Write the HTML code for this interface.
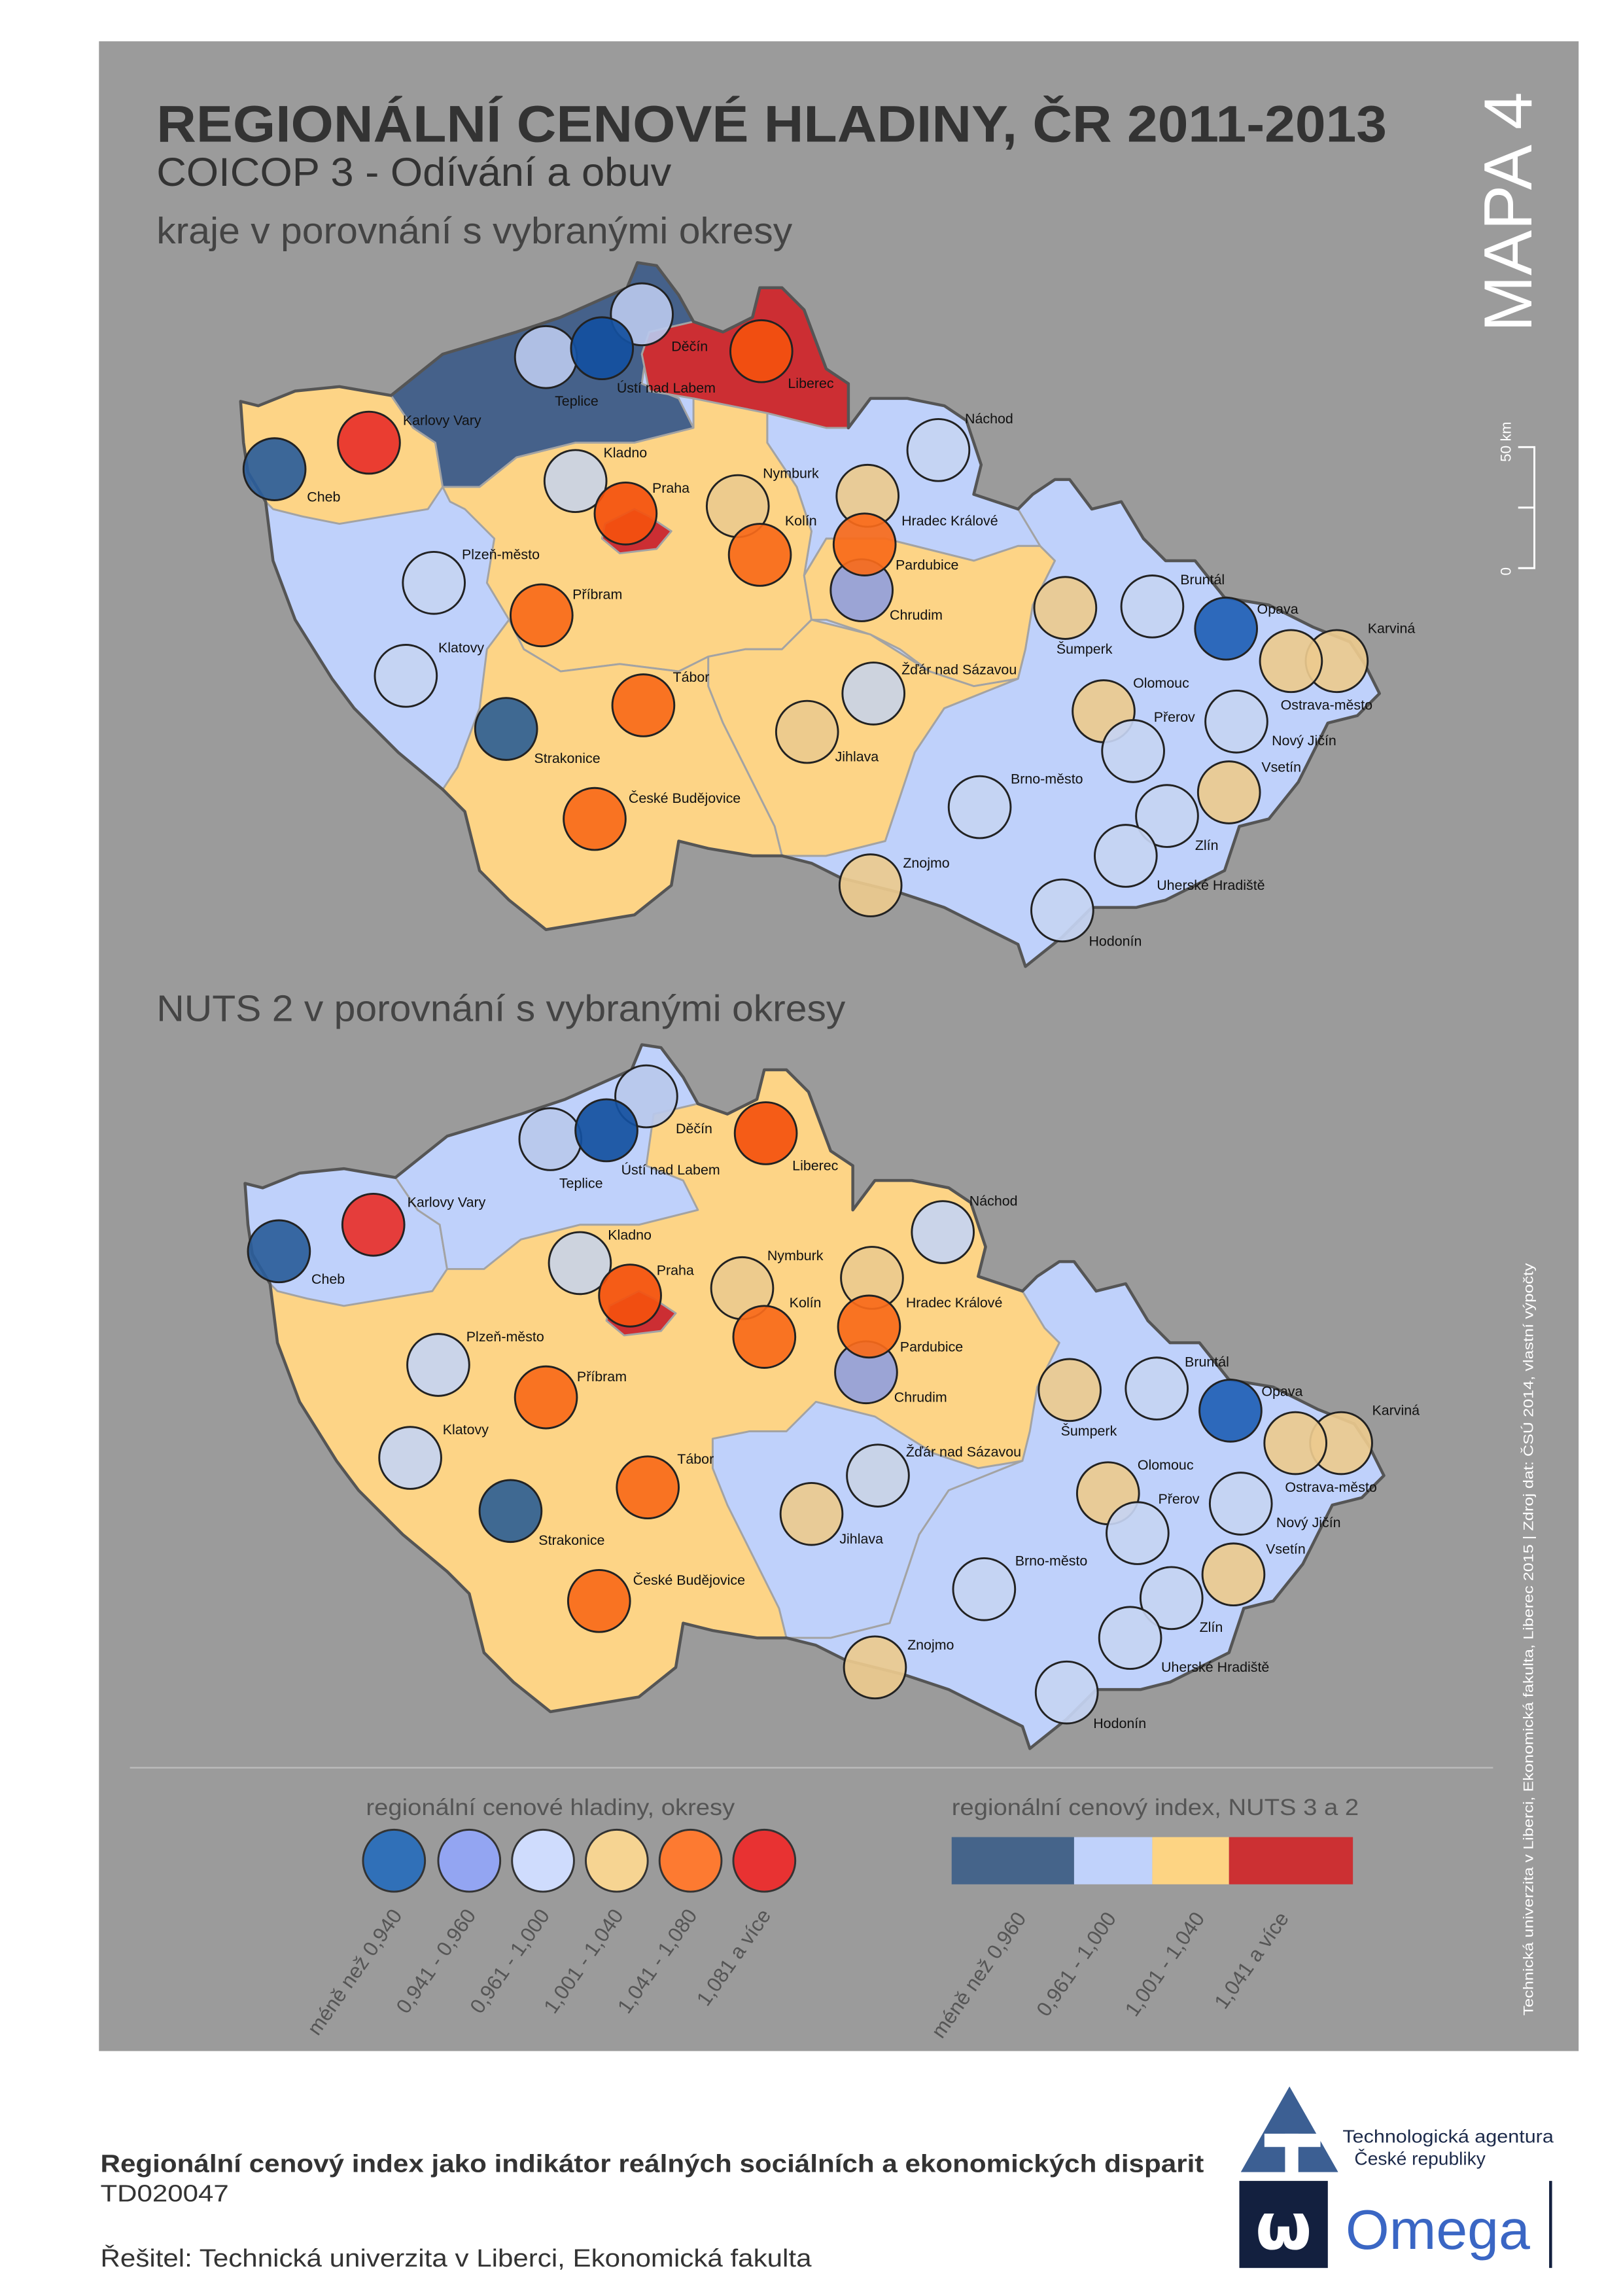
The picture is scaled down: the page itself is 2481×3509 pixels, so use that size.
<!DOCTYPE html>
<html><head><meta charset="utf-8"><style>
html,body{margin:0;padding:0;background:#fff;}
svg{display:block;font-family:"Liberation Sans",sans-serif;}
</style></head><body>
<svg width="2481" height="3509" viewBox="0 0 1100 1556" xmlns="http://www.w3.org/2000/svg">
<defs>
<path id="cz" d="M163,272 L175,275 L200,265 L230,262 L265,268 L300,240 L350,225 L380,215 L425,195 L432,178 L445,180 L460,200 L470,218 L490,225 L510,215 L515,195 L530,195 L545,210 L560,250 L575,260 L575,290 L590,270 L615,270 L640,275 L655,285 L665,315 L660,335 L690,345 L700,335 L715,325 L725,325 L740,345 L760,340 L775,365 L790,380 L810,380 L830,405 L860,410 L890,425 L915,435 L925,450 L935,470 L920,485 L900,490 L880,530 L860,555 L840,560 L830,590 L810,600 L790,610 L770,615 L740,615 L720,635 L695,655 L690,640 L640,615 L610,605 L590,600 L570,595 L550,585 L530,580 L510,580 L480,575 L460,570 L455,600 L430,620 L400,625 L370,630 L345,610 L325,590 L315,550 L300,535 L270,510 L240,480 L225,460 L200,420 L185,380 L180,340 L168,320 L165,300 Z"/>
<path id="kv" d="M163,272 L175,275 L200,265 L230,262 L265,268 L280,290 L295,300 L300,330 L290,345 L260,350 L230,355 L205,350 L185,345 L170,330 L165,300 Z"/>
<path id="us" d="M265,268 L300,240 L350,225 L380,215 L425,195 L432,178 L445,180 L460,200 L470,218 L440,225 L435,260 L460,270 L470,290 L430,300 L390,300 L350,310 L325,330 L300,330 L295,300 L280,290 Z"/>
<path id="lb" d="M470,218 L490,225 L510,215 L515,195 L530,195 L545,210 L560,250 L575,260 L575,290 L560,290 L540,285 L520,280 L495,275 L470,270 L440,265 L435,240 L440,225 Z"/>
<path id="hk" d="M520,280 L540,285 L560,290 L575,290 L590,270 L615,270 L640,275 L655,285 L665,315 L660,335 L690,345 L705,370 L690,370 L660,380 L640,375 L600,365 L560,365 L545,390 L550,360 L540,330 L520,300 Z"/>
<path id="st" d="M300,330 L325,330 L350,310 L390,300 L430,300 L470,290 L470,270 L495,275 L520,280 L520,300 L540,330 L550,360 L545,390 L550,420 L530,440 L505,440 L480,445 L460,455 L420,450 L380,455 L355,440 L345,420 L330,395 L335,365 L315,345 L305,340 Z"/>
<path id="ph" d="M410,355 L430,345 L440,350 L455,360 L445,372 L420,375 L408,365 Z"/>
<path id="pa" d="M545,390 L560,365 L600,365 L640,375 L660,380 L690,370 L705,370 L715,380 L700,410 L695,440 L690,460 L660,465 L630,455 L610,440 L590,430 L560,420 L550,420 Z"/>
<path id="vy" d="M505,440 L530,440 L550,420 L590,430 L630,455 L660,465 L690,460 L640,480 L620,510 L610,540 L600,570 L560,580 L530,580 L525,560 L510,530 L490,490 L480,465 L480,445 Z"/>
<path id="jc" d="M345,420 L355,440 L380,455 L420,450 L460,455 L480,445 L480,465 L490,490 L510,530 L525,560 L530,580 L510,580 L480,575 L460,570 L455,600 L430,620 L400,625 L370,630 L345,610 L325,590 L315,550 L300,535 L310,520 L325,480 L330,440 Z"/>
<path id="ea" d="M690,345 L700,335 L715,325 L725,325 L740,345 L760,340 L775,365 L790,380 L810,380 L830,405 L860,410 L890,425 L915,435 L925,450 L935,470 L920,485 L900,490 L880,530 L860,555 L840,560 L830,590 L810,600 L790,610 L770,615 L740,615 L720,635 L695,655 L690,640 L640,615 L610,605 L590,600 L570,595 L550,585 L530,580 L560,580 L600,570 L610,540 L620,510 L640,480 L690,460 L695,440 L700,410 L715,380 L705,370 Z"/>
<g id="circ" stroke="#222" stroke-width="1.3" fill-opacity="0.92">
<circle cx="186" cy="318" r="21" fill="#2b5d9a"/>
<circle cx="250" cy="300" r="21" fill="#e8302a"/>
<circle cx="370" cy="242" r="21" fill="#b8c8ec"/>
<circle cx="435" cy="213" r="21" fill="#b8c8ec"/>
<circle cx="408" cy="236" r="21" fill="#1450a0"/>
<circle cx="516" cy="238" r="21" fill="#f4510e"/>
<circle cx="636" cy="305" r="21" fill="#c6d4f2"/>
<circle cx="390" cy="326" r="21" fill="#c9d3e6"/>
<circle cx="424" cy="348" r="21" fill="#f4510e"/>
<circle cx="500" cy="343" r="21" fill="#ecca8e"/>
<circle cx="515" cy="376" r="21" fill="#f96a1a"/>
<circle cx="588" cy="336" r="21" fill="#ecca8e"/>
<circle cx="584" cy="400" r="21" fill="#939fdc"/>
<circle cx="586" cy="369" r="21" fill="#f96a1a"/>
<circle cx="294" cy="395" r="21" fill="#c6d4f2"/>
<circle cx="367" cy="417" r="21" fill="#f96a1a"/>
<circle cx="275" cy="458" r="21" fill="#c6d4f2"/>
<circle cx="436" cy="478" r="21" fill="#f96a1a"/>
<circle cx="343" cy="494" r="21" fill="#2f5f94"/>
<circle cx="403" cy="555" r="21" fill="#f96a1a"/>
<circle cx="592" cy="470" r="21" fill="#c9d3e6"/>
<circle cx="547" cy="496" r="21" fill="#ecca8e"/>
<circle cx="590" cy="600" r="21" fill="#ecca8e"/>
<circle cx="664" cy="547" r="21" fill="#c6d4f2"/>
<circle cx="722" cy="412" r="21" fill="#ecca8e"/>
<circle cx="781" cy="411" r="21" fill="#c6d4f2"/>
<circle cx="831" cy="426" r="21" fill="#2160b5"/>
<circle cx="906" cy="448" r="21" fill="#ecca8e"/>
<circle cx="875" cy="448" r="21" fill="#ecca8e"/>
<circle cx="748" cy="482" r="21" fill="#ecca8e"/>
<circle cx="768" cy="509" r="21" fill="#c6d4f2"/>
<circle cx="838" cy="489" r="21" fill="#c6d4f2"/>
<circle cx="833" cy="537" r="21" fill="#ecca8e"/>
<circle cx="791" cy="553" r="21" fill="#c6d4f2"/>
<circle cx="763" cy="580" r="21" fill="#c6d4f2"/>
<circle cx="720" cy="617" r="21" fill="#c6d4f2"/>
</g>
<g id="lab" font-size="9.5" fill="#111">
<text x="208" y="340">Cheb</text><text x="273" y="288">Karlovy Vary</text>
<text x="376" y="275">Teplice</text><text x="418" y="266">Ústí nad Labem</text>
<text x="455" y="238">Děčín</text><text x="534" y="263">Liberec</text>
<text x="654" y="287">Náchod</text><text x="409" y="310">Kladno</text>
<text x="442" y="334">Praha</text><text x="517" y="324">Nymburk</text>
<text x="532" y="356">Kolín</text><text x="611" y="356">Hradec Králové</text>
<text x="607" y="386">Pardubice</text><text x="603" y="420">Chrudim</text>
<text x="313" y="379">Plzeň-město</text><text x="388" y="406">Příbram</text>
<text x="297" y="442">Klatovy</text><text x="456" y="462">Tábor</text>
<text x="362" y="517">Strakonice</text><text x="426" y="544">České Budějovice</text>
<text x="611" y="457">Žďár nad Sázavou</text><text x="566" y="516">Jihlava</text>
<text x="612" y="588">Znojmo</text><text x="685" y="531">Brno-město</text>
<text x="716" y="443">Šumperk</text><text x="800" y="396">Bruntál</text>
<text x="852" y="416">Opava</text><text x="927" y="429">Karviná</text>
<text x="868" y="481">Ostrava-město</text><text x="768" y="466">Olomouc</text>
<text x="782" y="489">Přerov</text><text x="862" y="505">Nový Jičín</text>
<text x="855" y="523">Vsetín</text><text x="810" y="576">Zlín</text>
<text x="784" y="603">Uherské Hradiště</text><text x="738" y="641">Hodonín</text>
</g>
</defs>
<rect x="67" y="28" width="1003" height="1362" fill="#9b9b9b"/>
<text x="106" y="96" font-size="35" font-weight="bold" fill="#333" textLength="834" lengthAdjust="spacingAndGlyphs">REGIONÁLNÍ CENOVÉ HLADINY, ČR 2011-2013</text>
<text x="106" y="126" font-size="27" fill="#333" textLength="349" lengthAdjust="spacingAndGlyphs">COICOP 3 - Odívání a obuv</text>
<text x="106" y="165" font-size="25" fill="#444" textLength="431" lengthAdjust="spacingAndGlyphs">kraje v porovnání s vybranými okresy</text>
<text transform="translate(1038,225) rotate(-90)" font-size="46" fill="#fff">MAPA 4</text>
<text transform="translate(1024,313) rotate(-90)" font-size="10" fill="#fff">50 km</text>
<text transform="translate(1024,390) rotate(-90)" font-size="10" fill="#fff">0</text>
<path d="M1029,303 H1040 V385 H1029 M1029,344 H1040" stroke="#fff" stroke-width="1.3" fill="none"/>
<g stroke="#a3a3a3" stroke-width="1.3" stroke-linejoin="round">
<use href="#cz" fill="#bfd1fb"/>
<use href="#kv" fill="#fdd486"/><use href="#us" fill="#45618a"/><use href="#lb" fill="#cc2e33"/>
<use href="#hk" fill="#bfd1fb"/><use href="#st" fill="#fdd486"/><use href="#ph" fill="#cc2e33"/>
<use href="#pa" fill="#fdd486"/><use href="#vy" fill="#fdd486"/><use href="#jc" fill="#fdd486"/>
<use href="#ea" fill="#bfd1fb"/>
<use href="#cz" fill="none" stroke="#555" stroke-width="2"/>
</g>
<use href="#circ"/><use href="#lab"/>
<text x="106" y="692" font-size="25" fill="#444" textLength="467" lengthAdjust="spacingAndGlyphs">NUTS 2 v porovnání s vybranými okresy</text>
<g transform="translate(3,530)">
<g stroke="#a3a3a3" stroke-width="1.3" stroke-linejoin="round">
<use href="#cz" fill="#fdd486"/>
<use href="#kv" fill="#bfd1fb"/><use href="#us" fill="#bfd1fb"/>
<use href="#vy" fill="#bfd1fb"/><use href="#ea" fill="#bfd1fb"/><use href="#ph" fill="#cc2e33"/>
<use href="#cz" fill="none" stroke="#555" stroke-width="2"/>
</g>
<use href="#circ"/><use href="#lab"/>
</g>
<line x1="88" y1="1198" x2="1012" y2="1198" stroke="#bdbdbd" stroke-width="1"/>
<text x="248" y="1230" font-size="15.5" fill="#555" textLength="250" lengthAdjust="spacingAndGlyphs">regionální cenové hladiny, okresy</text>
<g stroke="#333" stroke-width="1.3">
<circle cx="267" cy="1261" r="21" fill="#3070b8"/><circle cx="318" cy="1261" r="21" fill="#93a5f2"/>
<circle cx="368" cy="1261" r="21" fill="#cfdcfd"/><circle cx="418" cy="1261" r="21" fill="#f6d492"/>
<circle cx="468" cy="1261" r="21" fill="#fd7a31"/><circle cx="518" cy="1261" r="21" fill="#e83232"/>
</g>
<g font-size="14" fill="#555" text-anchor="end">
<text transform="translate(273,1298) rotate(-55)">méně než 0,940</text>
<text transform="translate(323,1298) rotate(-55)">0,941 - 0,960</text>
<text transform="translate(373,1298) rotate(-55)">0,961 - 1,000</text>
<text transform="translate(423,1298) rotate(-55)">1,001 - 1,040</text>
<text transform="translate(473,1298) rotate(-55)">1,041 - 1,080</text>
<text transform="translate(523,1298) rotate(-55)">1,081 a více</text>
<text transform="translate(696,1300) rotate(-55)">méně než 0,960</text>
<text transform="translate(757,1300) rotate(-55)">0,961 - 1,000</text>
<text transform="translate(817,1300) rotate(-55)">1,001 - 1,040</text>
<text transform="translate(874,1300) rotate(-55)">1,041 a více</text>
</g>
<text x="645" y="1230" font-size="15.5" fill="#555" textLength="276" lengthAdjust="spacingAndGlyphs">regionální cenový index, NUTS 3 a 2</text>
<rect x="645" y="1245" width="83" height="32" fill="#45648a"/>
<rect x="728" y="1245" width="53" height="32" fill="#c0d2fb"/>
<rect x="781" y="1245" width="52" height="32" fill="#fdd483"/>
<rect x="833" y="1245" width="84" height="32" fill="#cc3033"/>
<text transform="translate(1039,1366) rotate(-90)" font-size="9.5" fill="#fff" textLength="510" lengthAdjust="spacingAndGlyphs">Technická univerzita v Liberci, Ekonomická fakulta, Liberec 2015 | Zdroj dat: ČSÚ 2014, vlastní výpočty</text>
<text x="68" y="1472" font-size="17" font-weight="bold" fill="#333" textLength="748" lengthAdjust="spacingAndGlyphs">Regionální cenový index jako indikátor reálných sociálních a ekonomických disparit</text>
<text x="68" y="1492" font-size="16" fill="#333" textLength="87" lengthAdjust="spacingAndGlyphs">TD020047</text>
<text x="68" y="1536" font-size="17" fill="#333" textLength="482" lengthAdjust="spacingAndGlyphs">Řešitel: Technická univerzita v Liberci, Ekonomická fakulta</text>
<polygon points="874,1414 841,1472 907,1472" fill="#3c5f93"/>
<rect x="857" y="1446" width="38" height="9" fill="#fff"/>
<rect x="871" y="1446" width="9" height="27" fill="#fff"/>
<text x="910" y="1452" font-size="12.5" fill="#1c2a4a" textLength="143" lengthAdjust="spacingAndGlyphs">Technologická agentura</text>
<text x="918" y="1467" font-size="12.5" fill="#1c2a4a">České republiky</text>
<rect x="840" y="1478" width="60" height="59" fill="#13203f"/>
<text x="870" y="1524" font-size="44" font-weight="bold" fill="#fff" text-anchor="middle" font-family="DejaVu Sans,sans-serif">ω</text>
<text x="912" y="1524" font-size="38" fill="#3a66c4" textLength="125" lengthAdjust="spacingAndGlyphs">Omega</text>
<line x1="1051" y1="1478" x2="1051" y2="1537" stroke="#13203f" stroke-width="2"/>
</svg>
</body></html>
